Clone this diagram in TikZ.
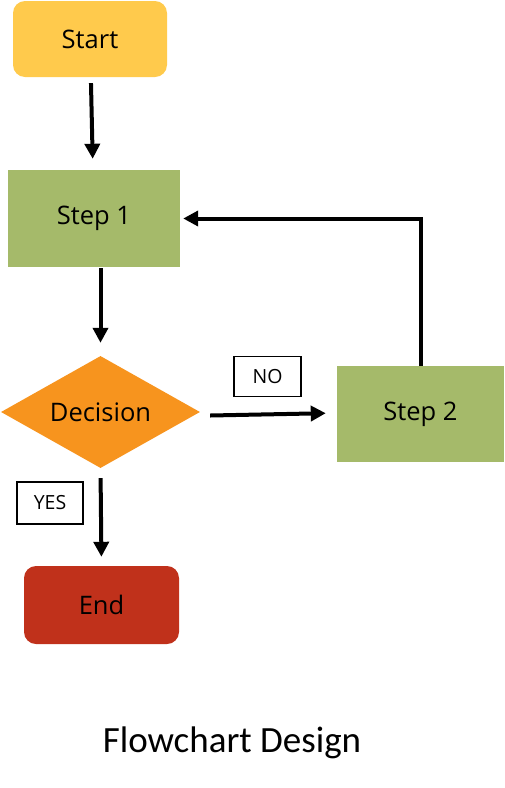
\documentclass[tikz,border=0pt]{standalone}
\usepackage{fontspec}
\setmainfont{Open Sans}
\newfontfamily\titlefont{Carlito}
\usepackage{tikz}
\usetikzlibrary{shapes.geometric, arrows.meta}
\definecolor{startfill}{RGB}{255, 202, 76}
\definecolor{stepfill}{RGB}{165, 186, 106}
\definecolor{decfill}{RGB}{247, 148, 30}
\definecolor{endfill}{RGB}{192, 49, 27}

\tikzset{
	flowbox/.style={rectangle, inner sep=0pt, text=black, font=\fontsize{25.5}{28}\selectfont},
	termbox/.style={flowbox, rounded corners=12pt},
	tagbox/.style={rectangle, draw=black, line width=1.4pt, inner sep=0pt, font=\fontsize{19.5}{22}\selectfont},
	flowarrow/.style={line width=4pt, -{Triangle[length=15pt, width=15pt]}}
}

\begin{document}
\begin{tikzpicture}[x=1pt, y=-1pt]
			\useasboundingbox (0, 0) rectangle (505, 788);

			% --- Terminal and step boxes ---
			\node[termbox, fill=startfill, minimum width=154pt, minimum height=76pt] (start) at (90, 39) {Start};
			\node[flowbox, fill=stepfill, minimum width=172pt, minimum height=97pt] (step1) at (94, 218.5) {Step 1};
			\node[flowbox, diamond, shape aspect=1.78, fill=decfill, minimum width=199pt, minimum height=112pt] (decision) at (100.5, 412) {Decision};
			\node[flowbox, fill=stepfill, minimum width=167pt, minimum height=96pt] (step2) at (420.5, 414) {Step 2};
			\node[termbox, fill=endfill, minimum width=155pt, minimum height=78pt] (endnode) at (101.5, 605) {End};

			% --- Branch tags ---
			\node[tagbox, minimum width=67pt, minimum height=40pt] (no) at (267.5, 376.5) {NO};
			\node[tagbox, minimum width=66pt, minimum height=42pt] (yes) at (50, 503) {YES};

			% --- Arrows ---
			\draw[flowarrow, shorten <=6pt, shorten >=11pt] (start) -- (step1);
			\draw[flowarrow, shorten <=1pt, shorten >=13pt] (step1.south -| decision) -- (decision.north);
			\draw[flowarrow, shorten <=10pt, shorten >=11pt] ([yshift=-3.7pt]decision.east) -- ([yshift=1pt]step2.west);
			\draw[flowarrow, shorten >=3pt] (step2.north) |- (step1.east);
			\draw[flowarrow, shorten <=10pt, shorten >=9pt] (decision.south) -- (endnode.north);

			% --- Caption ---
			\node[font=\titlefont\fontsize{37}{40}\selectfont] (title) at (232, 743) {Flowchart Design};
		\end{tikzpicture}
\end{document}
